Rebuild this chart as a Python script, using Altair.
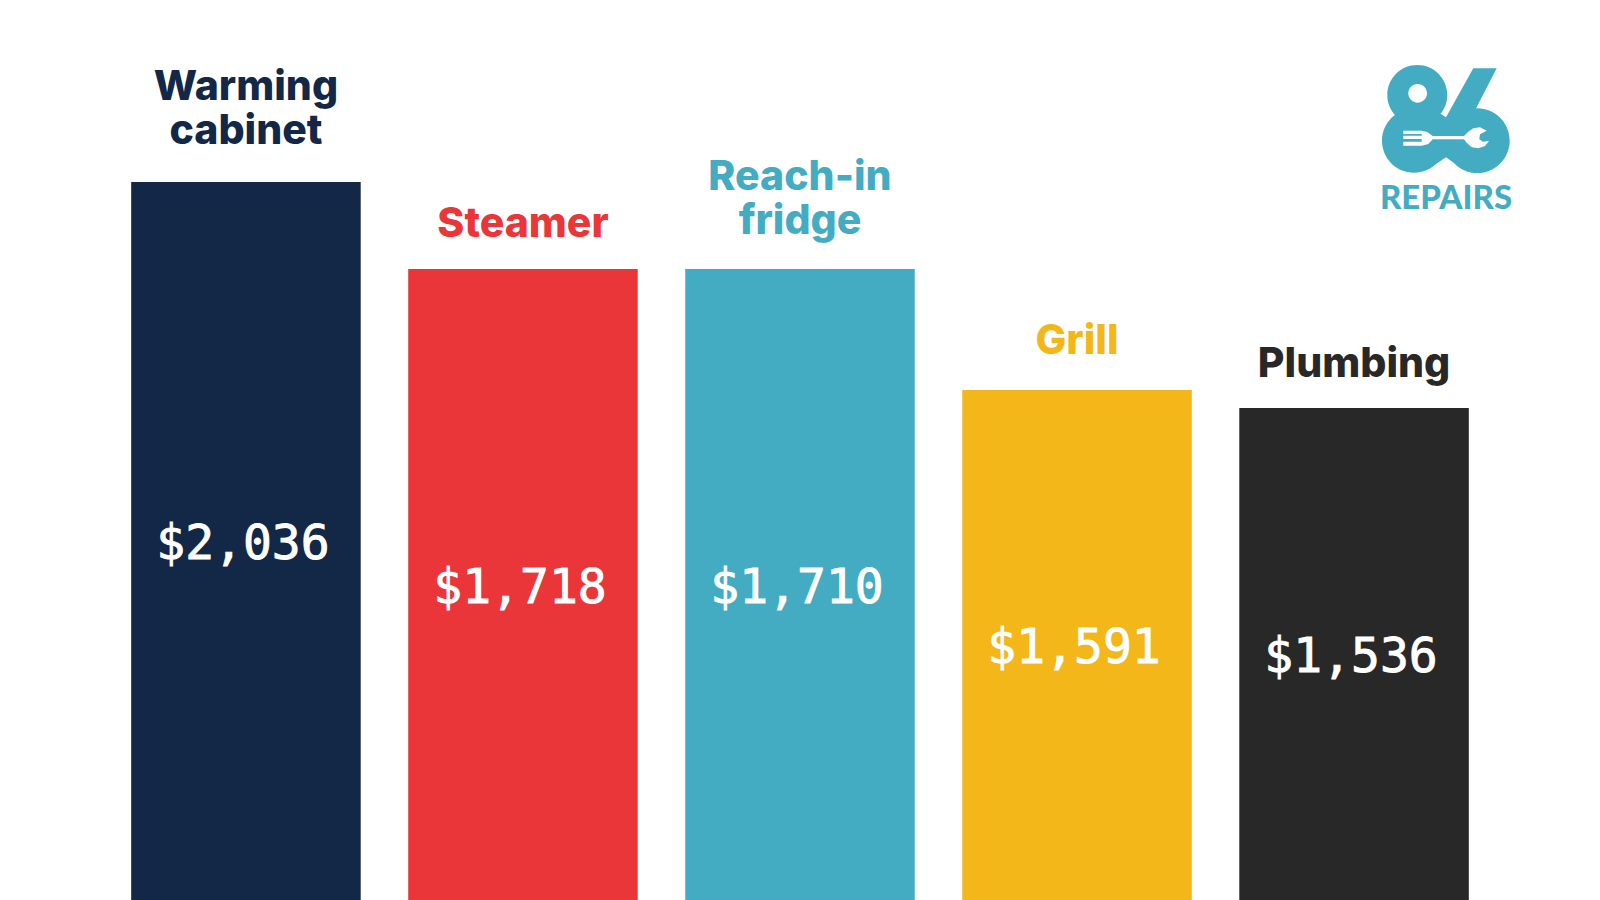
import altair as alt
import pandas as pd

categories = ["Warming\ncabinet", "Steamer", "Reach-in\nfridge", "Grill", "Plumbing"]
cost_labels = ["$2,036", "$1,718", "$1,710", "$1,591", "$1,536"]
bar_heights = [718, 631, 631, 510, 492]      # drawn height of each bar
label_gaps = [39, 33, 36, 37, 32]            # title baseline above bar top, as drawn
colors = ["#132747", "#EB3639", "#44ACC2", "#F4B71A", "#282828"]

W, H = 1584, 892
TEAL = "#44ACC2"
LINE_HEIGHT = 44

df = pd.DataFrame({
    "category": categories,
    "cost": cost_labels,
    "bar": bar_heights,
    "mid": [h / 2 for h in bar_heights],
    "top": [h + g + c.count("\n") * LINE_HEIGHT for h, g, c in zip(bar_heights, label_gaps, categories)],
    "color": colors,
})

x = alt.X("category:N", sort=categories, axis=None,
          scale=alt.Scale(paddingInner=0.1715, paddingOuter=0.4447))
yscale = alt.Scale(domain=[0, H], nice=False, zero=True)
color = alt.Color("color:N", scale=None, legend=None)

bars = alt.Chart(df).mark_bar(cornerRadius=0).encode(
    x=x, y=alt.Y("bar:Q", scale=yscale, axis=None), color=color)

values = alt.Chart(df).mark_text(
    font="DejaVu Sans Mono", fontSize=48, color="white", stroke="white", strokeWidth=0.9,
    baseline="middle", align="center", dx=-3, dy=4
).encode(x=x, y=alt.Y("mid:Q", scale=yscale, axis=None), text="cost:N")

titles = alt.Chart(df).mark_text(
    font="Inter", fontWeight=800, fontSize=41, baseline="bottom", align="center",
    lineBreak="\n", lineHeight=LINE_HEIGHT, dy=9.5
).encode(x=x, y=alt.Y("top:Q", scale=yscale, axis=None), text="category:N", color=color)


# --- logo, sketched in its own local pixel frame (origin at the logo's centre)
def p(zx, zy):
    return f"{zx / 3 + 1340 - 1446:.1f} {zy / 3 + 40 - 123:.1f}"


def circle(cx, cy, r):
    return (f"M{p(cx - r, cy)}A{r / 3:.1f} {r / 3:.1f} 0 1 1 {p(cx + r, cy)}"
            f"A{r / 3:.1f} {r / 3:.1f} 0 1 1 {p(cx - r, cy)}Z")


def poly(points):
    return "M" + "L".join(p(*q) for q in points) + "Z"


teal_path = (
    circle(232, 165, 90) + circle(222, 302, 96) + circle(412, 302, 97)
    + poly([(400, 85), (470, 85), (415, 192), (385, 250), (318, 232)])
    + poly([(250, 210), (303, 222), (318, 232), (385, 210), (351, 376), (318, 352), (285, 374)])
)
white_path = circle(233, 160, 28) + poly([
    (190, 272), (245, 272), (262, 276), (278, 288), (372, 288), (385, 275), (400, 265), (420, 262),
    (440, 272), (420, 283), (418, 297), (428, 305), (447, 303), (435, 318), (415, 325), (395, 322),
    (380, 308), (372, 298), (278, 298), (265, 312), (245, 317), (190, 317), (190, 305), (245, 305),
    (245, 297), (190, 297), (190, 287), (245, 287), (245, 282), (190, 282),
])

logo_df = pd.DataFrame({"logo": ["86"]})
logo_teal = alt.Chart(logo_df).mark_point(
    shape=teal_path, filled=True, size=4, color=TEAL, opacity=1, strokeWidth=0
).encode(x=alt.value(1438), y=alt.value(115))
logo_white = alt.Chart(logo_df).mark_point(
    shape=white_path, filled=True, size=4, color="white", opacity=1, strokeWidth=0
).encode(x=alt.value(1438), y=alt.value(115))
logo_text = alt.Chart(pd.DataFrame({"t": ["REPAIRS"]})).mark_text(
    font="Lato", fontWeight=900, fontSize=33, color=TEAL,
    align="center", baseline="alphabetic"
).encode(x=alt.value(1438), y=alt.value(201), text="t:N")

chart = (
    alt.layer(bars, values, titles, logo_teal, logo_white, logo_text)
    .properties(width=W, height=H, padding=0, background="white")
    .configure_view(strokeWidth=0)
)
chart.save("out.html", embed_options={"renderer": "svg", "actions": False})
